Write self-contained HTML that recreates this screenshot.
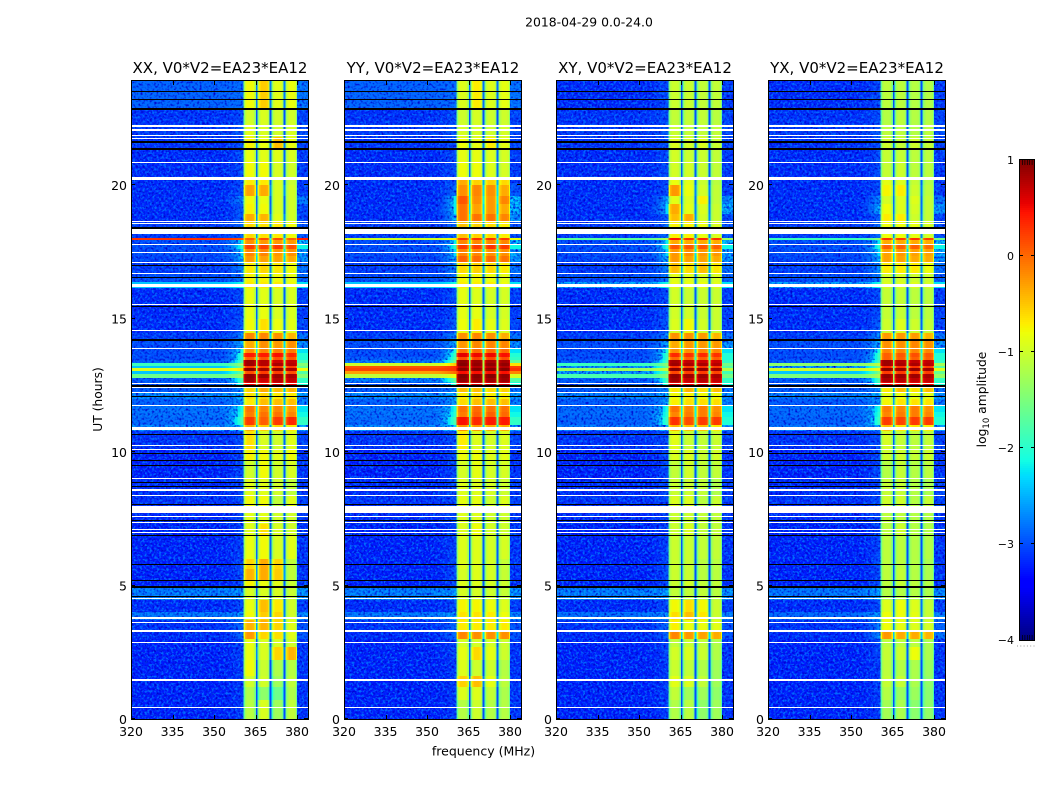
<!DOCTYPE html>
<html>
<head>
<meta charset="utf-8">
<title>2018-04-29 0.0-24.0</title>
<style>
html,body{margin:0;padding:0;background:#fff;}
svg{display:block;}
text{font-family:"DejaVu Sans","Liberation Sans",sans-serif;fill:#000;}
</style>
</head>
<body>
<svg id="figure" xmlns="http://www.w3.org/2000/svg" width="1050" height="800" viewBox="0 0 1050 800">
  <defs>
    <filter id="speckle" filterUnits="userSpaceOnUse" x="0" y="0" width="1050" height="800" color-interpolation-filters="sRGB">
      <feTurbulence type="fractalNoise" baseFrequency="0.42" numOctaves="2" seed="7" result="n"/>
      <feColorMatrix in="n" type="matrix" values="0 0 0 0 0  0 0 0 0 0.42  0 0 0 0 1  3.8 0 0 0 -1.75" result="c"/>
      <feComposite in="c" in2="SourceAlpha" operator="in"/>
    </filter>
    <filter id="shade" filterUnits="userSpaceOnUse" x="0" y="0" width="1050" height="800" color-interpolation-filters="sRGB">
      <feTurbulence type="fractalNoise" baseFrequency="0.44" numOctaves="1" seed="23" result="n"/>
      <feColorMatrix in="n" type="matrix" values="0 0 0 0 0  0 0 0 0 0  0 0 0 0 0.8  0 3 0 0 -1.35" result="c"/>
      <feComposite in="c" in2="SourceAlpha" operator="in"/>
    </filter>
  </defs>
  <text x="589" y="26.5" font-size="12.4" text-anchor="middle">2018-04-29 0.0-24.0</text>
  <text x="483.5" y="755.5" font-size="12.5" text-anchor="middle">frequency (MHz)</text>
  <text transform="translate(102,399.5) rotate(-90)" font-size="12.3" text-anchor="middle">UT (hours)</text>
  <text transform="translate(986,399.5) rotate(-90)" font-size="12.3" text-anchor="middle">log<tspan font-size="8.5" dy="3">10</tspan><tspan dy="-3"> amplitude</tspan></text>
  <g id="panels"></g>
  <g id="colorbar"></g>
</svg>
<script>
/* ---------- data ---------- */
const panelTitles = ['XX, V0*V2=EA23*EA12','YY, V0*V2=EA23*EA12','XY, V0*V2=EA23*EA12','YX, V0*V2=EA23*EA12'];
const xTicks = [320,335,350,365,380];
const yTicks = [0,5,10,15,20];
const colorbarTicks = [1,0,-1,-2,-3,-4];

/* UT hour edges of the rows */
const rowEdges = [0,.7,1.2,1.6,2.2,2.7,3.0,3.3,3.7,4.0,4.45,4.9,5.2,5.6,6.0,6.9,7.3,7.9,8.4,9.0,9.7,10.1,10.8,11.0,11.3,11.5,11.75,12.0,12.25,12.5,12.62,12.77,12.92,13.03,13.15,13.22,13.33,13.45,13.55,13.72,13.9,14.2,14.45,15.0,15.5,16.15,16.35,16.7,17.1,17.35,17.6,17.8,17.93,18.02,18.6,18.9,19.3,19.6,20.0,20.25,20.9,21.4,21.8,22.3,22.9,23.9];

/* frequency windows (MHz): spectral windows separated by gaps */
const windowEdges = [[360.7,365.1],[365.8,370.1],[370.8,375.1],[375.8,380]];
const windowProfile = [-.6,-.2,-.05,-.1,-.5];
/* overall offset of the quiet window level per panel (log10) */
const panelWindowShift = [-.03,-.05,-.12,-.15];

/* flagged data: [UT hour, duration in hours] */
const whiteFlags = [[22.21,.08],[22.06,.08],[21.84,.04],[21.76,.04],[20.84,.05],[20.24,.1],[18.63,.05],[18.54,.05],[18.26,.19],[17.79,.05],[17.48,.04],[17.08,.04],[16.7,.04],[16.25,.11],[15.53,.05],[14.56,.05],[13.88,.05],[12.57,.05],[12.41,.05],[12.24,.05],[11.76,.05],[10.89,.11],[10.25,.05],[10.11,.05],[9.02,.05],[8.58,.08],[8.36,.05],[7.84,.27],[7.58,.05],[7.37,.04],[7.09,.04],[6.99,.04],[4.51,.04],[3.79,.08],[3.62,.05],[3.31,.07],[2.86,.05],[1.46,.07],[.44,.05]];
const blackFlags = [[23.49,.04],[23.2,.04],[22.86,.09],[21.61,.06],[21.36,.08],[18.39,.07],[16.97,.05],[16.52,.05],[15.44,.05],[14.19,.08],[12.46,.07],[12.07,.05],[10.67,.05],[9.95,.05],[9.7,.05],[9.51,.05],[8.85,.05],[8.7,.05],[8.05,.05],[7.45,.05],[6.88,.05],[5.79,.05],[5.19,.05],[4.93,.07],[4.58,.05]];

/* log10 amplitude per row: [off-band, shoulder, window 1..4] */
const levelsXX = [
[-3.25,-3.1,-1.05,-.85,-1.2,-1],[-3.25,-3.1,-1.1,-1.3,-1.5,-1.1],[-3.25,-3.1,-.9,-.9,-1.2,-1],[-3.25,-3.1,-.7,-.95,-1.1,-1.05],[-3.25,-3.05,-.75,-.85,-.5,-.35],
[-3.25,-3.05,-.75,-.85,-.85,-.9],[-3.2,-2.8,-.2,-.5,-.55,-.8],[-3.15,-2.8,-.35,-.35,-.5,-.8],[-2.7,-2.5,-.7,-.45,-.5,-.9],[-3.2,-3,-.75,-.4,-.6,-.9],
[-2.65,-2.5,-.85,-.85,-.85,-.95],[-3.25,-3,-.65,-.75,-.8,-.95],[-3.25,-3,-.35,-.3,-.45,-1],[-3.25,-3,-.5,-.3,-.5,-1],[-3.25,-3.05,-.75,-.7,-.85,-.8],
[-3.25,-3.05,-.8,-.55,-.85,-.9],[-3.2,-3,-.8,-.8,-.9,-.9],[-3.15,-3,-.7,-.7,-1,-.8],[-3.2,-3,-.8,-.8,-.9,-1],[-3.25,-3,-.9,-.7,-.9,-.85],
[-3.25,-3,-.65,-.7,-.8,-.7],[-3.15,-3,-.55,-.85,-.9,-.8],[-2.6,-2.3,-.3,-.45,-.5,-.6],[-2.8,-1.8,.3,.1,.3,.4],[-2.75,-2,-.05,0,0,-.1],
[-2.75,-2.1,0,-.1,-.1,-.2],[-2.85,-2.5,-.6,-.4,-.4,-.4],[-2.6,-2.4,-.55,-.5,-.6,-.6],[-2.9,-2.6,-.5,-.3,-.4,-.35],[-2.9,-1.9,.6,.55,.65,.6],
[-2.9,-1.8,.9,.7,.8,.75],[-1.6,-1.3,.95,.9,.9,.85],[-2.4,-1.6,.2,.3,.3,.2],[-.9,-.7,1,.9,.95,.85],[-2.4,-1.5,.3,.3,.3,.3],
[-1.9,-1.3,.9,.8,.85,.8],[-2.9,-1.7,.9,.8,.7,.75],[-3,-1.9,.1,.15,.2,.15],[-3,-1.9,.45,.45,.5,.4],[-3,-2.1,-.15,-.1,-.05,-.05],
[-3,-2.4,-.3,-.15,-.2,-.15],[-3.1,-2.6,-.1,-.1,-.15,-.35],[-3.2,-2.9,-.7,-.55,-.75,-.8],[-3.2,-3,-.75,-.75,-.85,-.85],[-3.2,-3,-.75,-.8,-.85,-.85],
[-2.4,-2.1,-.6,-.6,-.6,-.7],[-3,-2.7,-.65,-.65,-.7,-.75],[-3.1,-2.6,-.6,-.5,-.6,-.7],[-3.05,-2.4,-.2,-.25,-.25,-.3],[-3,-2.3,-.1,-.1,-.2,-.15],
[-3,-2,.3,.25,.3,.2],[-3,-2.2,-.15,-.2,-.2,-.2],[.3,.1,.1,.2,.2,.1],[-3.1,-2.8,-.5,-.55,-.6,-.7],[-3.2,-2.9,-.3,-.35,-.8,-.9],
[-3.2,-2.9,-.65,-.7,-.85,-.9],[-3.2,-2.55,-.7,-.75,-.85,-.9],[-3.2,-3,-.25,-.3,-.85,-.9],[-3.2,-3,-.6,-.6,-.85,-.95],[-3.2,-3,-.7,-.7,-.85,-.9],
[-3.2,-3,-.75,-.8,-.8,-.85],[-3.15,-3,-.65,-.75,-.4,-.75],[-3.1,-2.9,-.8,-.85,-.9,-.85],[-3.15,-3,-.9,-.85,-.9,-.9],[-2.85,-2.8,-.7,-.45,-.8,-.75]];

const levelsYY = [
[-3.25,-3.1,-1.05,-.9,-1.05,-1.05],[-3.25,-3.1,-.8,-.8,-.95,-1.1],[-3.25,-3.1,-.45,-.4,-.75,-1],[-3.25,-3.1,-.8,-.9,-.9,-1.05],[-3.25,-3.05,-.75,-.5,-.75,-.9],
[-3.25,-3.05,-.85,-.85,-.85,-.9],[-3.2,-2.8,-.1,-.15,-.15,-.15],[-3.15,-2.8,-.6,-.6,-.6,-.6],[-2.7,-2.5,-.55,-.55,-.6,-.7],[-3.2,-3,-.65,-.65,-.7,-.8],
[-2.65,-2.5,-.85,-.85,-.9,-.95],[-3.25,-3,-.8,-.8,-.85,-.9],[-3.25,-3,-.85,-.8,-.85,-.95],[-3.25,-3,-.8,-.8,-.85,-.95],[-3.25,-3.05,-.8,-.8,-.85,-.85],
[-3.25,-3.05,-.8,-.7,-.85,-.9],[-3.2,-3,-.8,-.8,-.9,-.9],[-3.15,-3,-.75,-.75,-.9,-.8],[-3.2,-3,-.8,-.8,-.85,-.9],[-3.25,-3,-.85,-.75,-.85,-.85],
[-3.25,-3,-.7,-.7,-.8,-.75],[-3.15,-3,-.6,-.8,-.85,-.8],[-2.6,-2.3,-.15,-.2,-.3,-.3],[-2.8,-1.8,.5,.4,.45,.45],[-2.75,-2,-.05,.1,.1,.05],
[-2.75,-2.1,0,.05,0,0],[-2.85,-2.5,-.5,-.4,-.4,-.4],[-2.6,-2.4,-.6,-.5,-.6,-.6],[-2.9,-2.6,-.4,-.4,-.5,-.45],[-2.9,-1.9,.7,.7,.7,.7],
[-2.7,-1.6,.95,.95,.9,.9],[-1.1,-.8,1,1,1,.95],[-.3,0,.5,.5,.5,.5],[.2,.3,1,1,1,1],[.1,.3,.8,.8,.8,.8],
[-1,-.5,1,.95,.95,.95],[-2.7,-1.5,.95,.9,.85,.85],[-2.9,-1.8,.2,.25,.25,.2],[-3,-1.9,.6,.55,.55,.5],[-3,-2.1,0,.05,.05,.05],
[-3,-2.4,-.2,-.1,-.1,-.1],[-3.1,-2.6,-.15,-.1,-.15,-.3],[-3.2,-2.9,-.7,-.6,-.75,-.8],[-3.2,-3,-.75,-.75,-.85,-.85],[-3.2,-3,-.75,-.8,-.85,-.85],
[-2.4,-2.1,-.6,-.6,-.6,-.7],[-3,-2.7,-.65,-.65,-.7,-.75],[-3.1,-2.6,-.5,-.45,-.5,-.6],[-3.05,-2.4,.1,.05,.05,0],[-3,-2.3,-.1,-.1,-.15,-.15],
[-3,-2,.3,.3,.35,.3],[-3,-2.2,-.1,-.1,-.1,-.1],[-1,-.7,.35,.35,.35,.3],[-3.1,-2.8,-.4,-.45,-.5,-.6],[-3.2,-2.4,0,0,0,-.1],
[-3.2,-2.2,0,-.25,-.2,-.3],[-3.2,-2.2,.15,-.15,-.2,-.1],[-3.2,-2.8,-.15,-.1,-.15,-.3],[-3.2,-3,-.3,-.45,-.45,-.5],[-3.2,-3,-.7,-.7,-.8,-.85],
[-3.2,-3,-.75,-.75,-.8,-.85],[-3.15,-3,-.7,-.75,-.6,-.75],[-3.1,-2.9,-.85,-.85,-.9,-.85],[-3.15,-3,-.9,-.85,-.9,-.9],[-2.85,-2.8,-.8,-.6,-.8,-.75]];

const levelsXY = [
[-3.25,-3.1,-1,-.95,-1.2,-1.1],[-3.25,-3.1,-.9,-1.1,-1.1,-1.2],[-3.25,-3.1,-.7,-.75,-.9,-1.1],[-3.25,-3.1,-.85,-.9,-1,-1.1],[-3.25,-3.05,-.8,-.75,-.85,-1],
[-3.25,-3.05,-.9,-.85,-.9,-1],[-3.2,-2.8,-.1,-.2,-.25,-.3],[-3.15,-2.8,-.55,-.65,-.65,-.7],[-2.75,-2.5,-.45,-.4,-.5,-.85],[-3.2,-3,-.6,-.45,-.6,-.85],
[-2.65,-2.5,-.9,-.9,-.9,-.95],[-3.25,-3,-.85,-.8,-.9,-.9],[-3.25,-3,-.85,-.85,-.95,-.95],[-3.25,-3,-.85,-.85,-.95,-.95],[-3.25,-3.05,-.85,-.85,-.9,-.9],
[-3.25,-3.05,-.85,-.75,-.9,-.9],[-3.2,-3,-.85,-.85,-.9,-.9],[-3.15,-3,-.75,-.75,-.95,-.85],[-3.2,-3,-.85,-.85,-.9,-1],[-3.25,-3,-.9,-.8,-.9,-.9],
[-3.25,-3,-.75,-.75,-.85,-.8],[-3.15,-3,-.7,-.85,-.9,-.85],[-2.7,-2.4,-.35,-.4,-.4,-.5],[-2.85,-1.9,.35,.2,.3,.3],[-2.8,-2,-.1,-.05,-.05,-.1],
[-2.8,-2.1,0,-.1,-.05,-.15],[-2.9,-2.5,-.55,-.45,-.45,-.45],[-2.65,-2.4,-.6,-.55,-.6,-.6],[-2.9,-2.6,-.5,-.35,-.45,-.4],[-2.9,-1.9,.65,.6,.65,.6],
[-2.9,-1.8,.9,.75,.8,.75],[-1.8,-1.4,.95,.9,.9,.85],[-2.5,-1.7,.25,.3,.3,.25],[-1.3,-1,1,.95,.95,.9],[-2.5,-1.6,.35,.3,.35,.3],
[-1.9,-1.4,.9,.85,.85,.8],[-2.9,-1.8,.85,.75,.7,.7],[-3,-1.9,.05,.1,.1,.1],[-3,-1.9,.4,.35,.4,.35],[-3,-2.1,-.15,-.15,-.1,-.1],
[-3,-2.4,-.3,-.2,-.2,-.2],[-3.1,-2.6,-.15,-.15,-.2,-.35],[-3.2,-2.9,-.75,-.6,-.8,-.85],[-3.2,-3,-.8,-.8,-.85,-.85],[-3.2,-3,-.8,-.85,-.85,-.85],
[-2.45,-2.1,-.65,-.65,-.65,-.7],[-3,-2.7,-.7,-.7,-.75,-.75],[-3.1,-2.6,-.4,-.45,-.4,-.5],[-3.05,-2.4,-.2,-.25,-.25,-.3],[-3,-2.3,-.2,-.15,-.2,-.2],
[-3,-2,.15,.15,.15,.1],[-3,-2.2,-.3,-.3,-.3,-.3],[-1.7,-1.2,.45,.35,.4,.35],[-3.1,-2.8,-.55,-.55,-.65,-.75],[-3.2,-2.9,-.4,-.3,-.8,-.85],
[-3.2,-2.3,-.3,-.7,-.75,-.85],[-3.2,-2.45,-.7,-.75,-.55,-.9],[-3.2,-3,-.2,-.65,-.8,-.9],[-3.2,-3,-.65,-.7,-.85,-.95],[-3.2,-3,-.8,-.8,-.85,-.9],
[-3.2,-3,-.8,-.85,-.85,-.9],[-3.15,-3,-.75,-.8,-.75,-.85],[-3.1,-2.9,-.85,-.9,-.9,-.9],[-3.15,-3,-.9,-.9,-.9,-.95],[-3.2,-3,-.85,-.85,-.9,-.9]];

const levelsYX = [
[-3.25,-3.1,-1.05,-1,-1.2,-1.15],[-3.25,-3.1,-.95,-1.1,-1.1,-1.2],[-3.25,-3.1,-.85,-.85,-1,-1.15],[-3.25,-3.1,-.9,-.95,-1,-1.1],[-3.25,-3.05,-.85,-.8,-.6,-1],
[-3.25,-3.05,-.9,-.9,-.9,-1],[-3.2,-2.6,-.2,-.3,-.3,-.35],[-3.15,-2.7,-.6,-.65,-.7,-.75],[-2.8,-2.5,-.6,-.6,-.65,-.85],[-3.2,-3,-.7,-.6,-.7,-.85],
[-2.7,-2.5,-.95,-.95,-.95,-1],[-3.25,-3,-.9,-.85,-.9,-.95],[-3.25,-3,-.9,-.85,-.95,-1],[-3.25,-3,-.9,-.9,-.95,-1],[-3.25,-3.05,-.9,-.9,-.95,-.95],
[-3.25,-3.05,-.9,-.8,-.95,-.95],[-3.2,-3,-.9,-.9,-.95,-.95],[-3.15,-3,-.8,-.8,-.95,-.85],[-3.2,-3,-.85,-.85,-.95,-1],[-3.25,-3,-.95,-.85,-.95,-.9],
[-3.25,-3,-.8,-.8,-.85,-.8],[-3.15,-3,-.75,-.85,-.9,-.85],[-2.7,-2.4,-.4,-.45,-.45,-.5],[-2.85,-1.9,.3,.25,.3,.3],[-2.8,-2,-.1,-.05,-.05,-.1],
[-2.8,-2.1,-.05,-.1,-.05,-.15],[-2.9,-2.5,-.55,-.45,-.45,-.45],[-2.65,-2.4,-.65,-.6,-.65,-.65],[-2.9,-2.6,-.5,-.4,-.45,-.4],[-2.9,-1.9,.6,.6,.6,.6],
[-2.9,-1.8,.85,.8,.75,.75],[-1.5,-1.2,.95,.9,.9,.85],[-2.4,-1.5,.3,.3,.3,.3],[-1,-.8,1,.95,.95,.9],[-2.5,-1.6,.4,.35,.35,.3],
[-1.4,-1.1,.9,.85,.85,.8],[-2.9,-1.8,.9,.8,.75,.75],[-3,-1.9,.1,.1,.1,.1],[-3,-1.9,.1,.15,.2,.15],[-3,-2.1,-.1,-.1,-.1,-.1],
[-3,-2.4,-.15,-.15,-.1,-.15],[-3.1,-2.6,-.2,-.2,-.2,-.35],[-3.2,-2.9,-.8,-.7,-.8,-.85],[-3.2,-3,-.85,-.85,-.9,-.9],[-3.2,-3,-.85,-.85,-.9,-.9],
[-2.5,-2.1,-.7,-.7,-.7,-.75],[-3,-2.7,-.75,-.75,-.8,-.8],[-3.1,-2.6,-.5,-.5,-.5,-.6],[-3.05,-2.4,-.25,-.25,-.3,-.3],[-3,-2.3,-.25,-.2,-.25,-.25],
[-3,-2,.1,.1,.1,.05],[-3,-2.2,-.3,-.3,-.3,-.3],[-1.9,-1.4,.35,.3,.35,.3],[-3.1,-2.8,-.6,-.6,-.65,-.75],[-3.2,-2.9,-.5,-.5,-.8,-.85],
[-3.2,-2.4,-.6,-.7,-.75,-.85],[-3.2,-2.6,-.75,-.7,-.7,-.85],[-3.2,-3,-.55,-.5,-.8,-.9],[-3.2,-3,-.65,-.7,-.85,-.95],[-3.2,-3,-.85,-.8,-.9,-.9],
[-3.2,-3,-.85,-.85,-.9,-.9],[-3.15,-3,-.8,-.85,-.8,-.85],[-3.1,-2.9,-.9,-.9,-.95,-.9],[-3.15,-3,-.95,-.9,-.95,-.95],[-3.2,-3,-.9,-.9,-.95,-.95]];

const panelLevels = [levelsXX,levelsYY,levelsXY,levelsYX];

/* jet colormap anchors: [position, channel value] */
const jetRed = [[0,0],[.35,0],[.66,1],[.89,1],[1,.5]];
const jetGreen = [[0,0],[.125,0],[.375,1],[.64,1],[.91,0],[1,0]];
const jetBlue = [[0,.5],[.11,1],[.34,1],[.65,0],[1,0]];

/* ---------- layout & scales ---------- */
const NS = 'http://www.w3.org/2000/svg';
const panelLeft = [131,344,556,768];
const plotWidth = 177, plotTop = 81, plotBottom = 719;
const freqMin = 320, pxPerMHz = 2.767, pxPerHour = 26.7;
const xScale = (f, left) => left + (f - freqMin) * pxPerMHz;
const yScale = h => plotBottom - h * pxPerHour;
const cLow = -4, cHigh = 1;

function ramp(stops, t){
  for(let i = 1; i < stops.length; i++){
    if(t <= stops[i][0]){
      const a = stops[i-1], b = stops[i];
      return a[1] + (b[1]-a[1]) * (t-a[0]) / (b[0]-a[0]);
    }
  }
  return stops[stops.length-1][1];
}
function color(v){
  const t = Math.max(0, Math.min(1, (v - cLow) / (cHigh - cLow)));
  return 'rgb(' + Math.round(255*ramp(jetRed,t)) + ',' + Math.round(255*ramp(jetGreen,t)) + ',' + Math.round(255*ramp(jetBlue,t)) + ')';
}
function svgEl(tag, attrs, parent){
  const el = document.createElementNS(NS, tag);
  for(const k in attrs) el.setAttribute(k, attrs[k]);
  parent.appendChild(el);
  return el;
}
function cell(parent, x0, x1, y0, y1, fill){
  const r = svgEl('rect', {x:x0, y:y0, width:Math.max(0,x1-x0), height:Math.max(0,y1-y0), fill:fill, 'shape-rendering':'crispEdges'}, parent);
  
  
  return r;
}

/* ---------- panels ---------- */
const panelsG = document.getElementById('panels');
panelLevels.forEach((levels, p) => {
  const left = panelLeft[p], right = left + plotWidth;
  const g = svgEl('g', {}, panelsG);
  
  

  const title = svgEl('text', {x:left + plotWidth/2 + .5, y:73, 'font-size':15, 'text-anchor':'middle'}, g);
  
  
  title.textContent = panelTitles[p];

  const heat = svgEl('g', {}, g);
  
  
  const noiseMask = svgEl('g', {}, document.createDocumentFragment());

  levels.forEach((row, i) => {
    const yBot = Math.round(yScale(rowEdges[i])), yTop = Math.round(yScale(rowEdges[i+1]));
    const off = row[0], sh = row[1];
    const offEnd = xScale(352, left), bandStart = xScale(windowEdges[0][0], left);
    cell(heat, left, offEnd, yTop, yBot, color(off));
    const quiet = off < -2.4;
    if(quiet) svgEl('rect', {x:left, y:yTop, width:offEnd-left, height:yBot-yTop}, noiseMask);
    const steps = 8;
    for(let s = 0; s < steps; s++){
      const a = offEnd + (bandStart-offEnd)*s/steps, b = offEnd + (bandStart-offEnd)*(s+1)/steps;
      const w = (s+1)/steps;
      const level = off + (sh-off)*w*w;
      cell(heat, a, b, yTop, yBot, color(level));
      if(quiet && level < -2.3) svgEl('rect', {x:a, y:yTop, width:b-a, height:yBot-yTop}, noiseMask);
    }
    const wins = row.slice(2);
    const mean = wins.reduce((u,v)=>u+v,0)/wins.length;
    windowEdges.forEach((edge, k) => {
      const a = xScale(edge[0], left), b = xScale(edge[1], left), unit = (b-a)/6;
      const widths = [.6,.9,3,.9,.6];
      const base = wins[k] + (wins[k] < -.4 ? panelWindowShift[p] : 0);
      let cur = a;
      windowProfile.forEach((d, q) => {
        const nxt = cur + widths[q]*unit;
        cell(heat, cur, nxt, yTop, yBot, color(base + (wins[k] > .4 ? d*.5 : d)));
        cur = nxt;
      });
      const gapEnd = k < 3 ? xScale(windowEdges[k+1][0], left) : b;
      if(k < 3) cell(heat, b, gapEnd, yTop, yBot, color(Math.max(-3, mean - 2.1)));
    });
    const rightStart = xScale(windowEdges[3][1], left);
    const rightLevel = Math.max(off + .1, sh - .15);
    cell(heat, rightStart, right, yTop, yBot, color(rightLevel));
    if(quiet && rightLevel < -2.3) svgEl('rect', {x:rightStart, y:yTop, width:right-rightStart, height:yBot-yTop}, noiseMask);
  });

  const dark = noiseMask.cloneNode(true);
  dark.setAttribute('filter', 'url(#shade)');
  
  
  g.appendChild(dark);
  const light = noiseMask.cloneNode(true);
  light.setAttribute('filter', 'url(#speckle)');
  
  
  g.appendChild(light);

  [[whiteFlags,'#fff','flag-white'],[blackFlags,'#000','flag-black']].forEach(set => {
    set[0].forEach(flag => {
      const h = Math.max(1, Math.round(flag[1]*pxPerHour));
      const y = Math.round(yScale(flag[0]) - h/2);
      const r = svgEl('rect', {x:left, y:y, width:plotWidth, height:h, fill:set[1], 'shape-rendering':'crispEdges'}, g);
      
      
    });
  });

  const frame = svgEl('rect', {x:left+.5, y:plotTop-.5, width:plotWidth, height:plotBottom-plotTop+1, fill:'none', stroke:'#000', 'stroke-width':1}, g);
  
  

  xTicks.forEach(t => {
    const x = Math.round(xScale(t, left)) + .5;
    const a = svgEl('line', {x1:x, x2:x, y1:plotBottom, y2:plotBottom-4, stroke:'#000'}, g);
    
    
    const b = svgEl('line', {x1:x, x2:x, y1:plotTop, y2:plotTop+4, stroke:'#000'}, g);
    
    
    const lab = svgEl('text', {x:xScale(t, left), y:plotBottom+17, 'font-size':12.5, 'text-anchor':'middle'}, g);
    
    
    lab.textContent = t;
  });
  yTicks.forEach(t => {
    const y = Math.round(yScale(t)) - .5;
    const a = svgEl('line', {x1:left, x2:left+4, y1:y, y2:y, stroke:'#000'}, g);
    
    
    const b = svgEl('line', {x1:right, x2:right-4, y1:y, y2:y, stroke:'#000'}, g);
    
    
    const lab = svgEl('text', {x:left-4, y:yScale(t)+5, 'font-size':12.5, 'text-anchor':'end'}, g);
    
    
    lab.textContent = t;
  });
});

/* ---------- colorbar ---------- */
const cb = document.getElementById('colorbar');
const cbLeft = 1019, cbRight = 1035, cbTop = 160, cbBottom = 640;
const cbY = v => cbTop + (cHigh - v) * (cbBottom - cbTop) / (cHigh - cLow);
for(let py = cbTop; py < cbBottom; py += 2){
  const v = cHigh - (py + 1 - cbTop) * (cHigh - cLow) / (cbBottom - cbTop);
  const r = svgEl('rect', {x:cbLeft, y:py, width:cbRight-cbLeft, height:2, fill:color(v), 'shape-rendering':'crispEdges'}, cb);
  
  
}
const cbFrame = svgEl('rect', {x:cbLeft+.5, y:cbTop-.5, width:cbRight-cbLeft-1, height:cbBottom-cbTop+1, fill:'none', stroke:'#000'}, cb);


colorbarTicks.forEach(t => {
  const y = Math.round(cbY(t)) - .5;
  if(t !== 1 && t !== -4){
    const a = svgEl('line', {x1:cbLeft, x2:cbLeft+4, y1:y, y2:y, stroke:'#000'}, cb);
    
    
    const b = svgEl('line', {x1:cbRight, x2:cbRight-4, y1:y, y2:y, stroke:'#000'}, cb);
    
    
  }
  const lab = svgEl('text', {x:1014, y:cbY(t)+4, 'font-size':11, 'text-anchor':'end'}, cb);
  
  
  lab.textContent = t < 0 ? '\u2212' + Math.abs(t) : String(t);
});
for(let i = 0; i < 6; i++){
  const x = cbLeft + 3.5 + i * 2.4;
  const top = svgEl('line', {x1:x, x2:x, y1:cbTop, y2:cbTop+5, stroke:'#000', 'stroke-width':.7}, cb);
  
  
  const bot = svgEl('line', {x1:x, x2:x, y1:cbBottom, y2:cbBottom-5, stroke:'#000', 'stroke-width':.7}, cb);
  
  
  const dot = svgEl('rect', {x:1017 + i*3.3, y:645.5, width:1, height:1, fill:'#999'}, cb);
  
  
}
</script>
</body>
</html>
